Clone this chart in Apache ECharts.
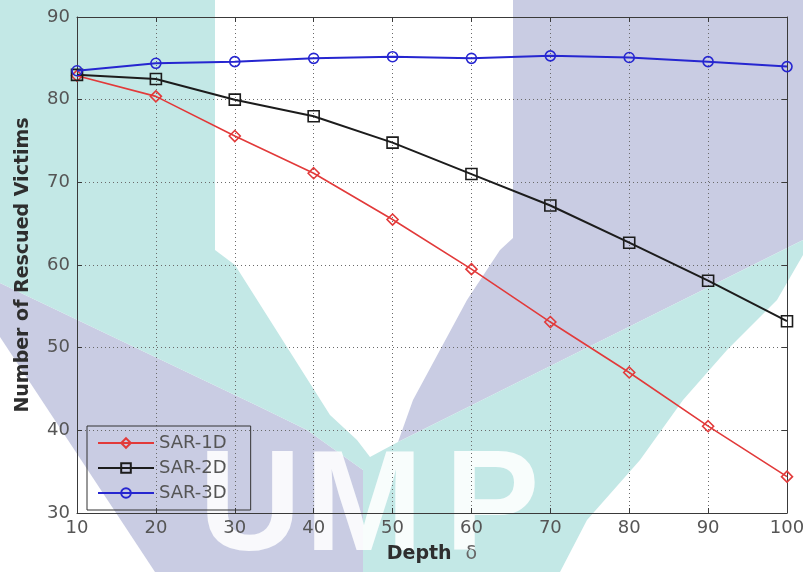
<!DOCTYPE html>
<html><head><meta charset="utf-8">
<script src="https://cdn.jsdelivr.net/npm/echarts@6/dist/echarts.min.js"></script>
<style>html,body{margin:0;padding:0;background:#fff}#c{width:803px;height:572px}</style>
</head><body><div id="c"></div>
<script>
// ---- data ----
const depths = [10, 20, 30, 40, 50, 60, 70, 80, 90, 100];
const sar1d = [82.9, 80.4, 75.6, 71.1, 65.5, 59.5, 53.1, 47.0, 40.5, 34.4];
const sar2d = [83.0, 82.5, 80.0, 78.0, 74.8, 71.0, 67.2, 62.7, 58.1, 53.2];
const sar3d = [83.5, 84.4, 84.6, 85.0, 85.2, 85.0, 85.3, 85.1, 84.6, 84.0];
const seriesNames = ['SAR-1D', 'SAR-2D', 'SAR-3D'];
const xRange = [10, 100];
const yRange = [30, 90];
const tickStep = 10;
const yTitle = 'Number of Rescued Victims';
const xTitle = 'Depth';

// ---- background watermark (decoration) ----
const teal = '#c3e8e6', lav = '#c9cce3';
const lavTop = [[513,0],[803,0],[803,240],[398,442],[413,400],[440,350],[467,300],[500,250],[513,238]];
const lavLeft = [[0,283],[260,407],[307,430],[363,470],[363,572],[155,572],[0,337]];
const tealShape = [[0,0],[215,0],[215,250],[235,265],[330,415],[357,440],[370,457],[383,450],[398,442],[803,240],[803,255],[777,300],[727,350],[683,400],[640,460],[587,520],[560,572],[363,572],[363,470],[307,430],[260,407],[0,283]];
const letters = [['U',250],['M',364],['P',492]];

const pairs = vals => depths.map((d, i) => [d, vals[i]]);
const font = 'DejaVu Sans';

const chart = echarts.init(document.getElementById('c'), null, {renderer: 'canvas'});
const axisCommon = {
  type: 'value', min: xRange[0], max: xRange[1], interval: tickStep,
  axisLine: {show: true, onZero: false, lineStyle: {color: '#3a3a3a', width: 1}},
  axisTick: {show: true, inside: true, length: 5, lineStyle: {color: '#3a3a3a'}}
};
const gridLine = {show: true, lineStyle: {type: [1, 3], color: '#6a6a6a', width: 1}};

chart.setOption({
  animation: false,
  backgroundColor: '#ffffff',
  graphic: [
    {type: 'polygon', z: -100, silent: true, shape: {points: lavTop}, style: {fill: lav}},
    {type: 'polygon', z: -100, silent: true, shape: {points: lavLeft}, style: {fill: lav}},
    {type: 'polygon', z: -99, silent: true, shape: {points: tealShape}, style: {fill: teal}},
    ...letters.map(([t, x]) => ({type: 'text', z: -98, silent: true, x: x, y: 511,
      style: {text: t, fill: 'rgba(255,255,255,0.88)', font: 'bold 142px "Liberation Sans"', align: 'center', verticalAlign: 'middle'}}))
  ],
  grid: {left: 77, right: 16, top: 17, bottom: 59, containLabel: false, outerBoundsMode: 'none'},
  legend: {
    orient: 'vertical', left: 87, top: 426,
    padding: [8, 24, 8, 10], itemGap: 7, itemWidth: 56, itemHeight: 12,
    borderColor: '#333', borderWidth: 1, backgroundColor: 'transparent',
    textStyle: {fontFamily: font, fontSize: 18, color: '#555'},
    data: seriesNames
  },
  xAxis: [
    Object.assign({}, axisCommon, {
      position: 'bottom',
      axisLabel: {show: true, color: '#555', fontFamily: font, fontSize: 18, margin: 6, showMinLabel: true, showMaxLabel: true},
      splitLine: gridLine,
      name: xTitle + '{d|δ}', nameLocation: 'middle', nameGap: 32,
      nameTextStyle: {fontFamily: font, fontSize: 19, fontWeight: 'bold', color: '#2e2e2e',
        rich: {d: {fontFamily: font, fontSize: 19, fontWeight: 'normal', color: '#666', padding: [0, 0, 0, 14]}}}
    }),
    Object.assign({}, axisCommon, {position: 'top', axisLabel: {show: false}, splitLine: {show: false}})
  ],
  yAxis: [
    Object.assign({}, axisCommon, {
      min: yRange[0], max: yRange[1], position: 'left',
      axisLabel: {show: true, color: '#555', fontFamily: font, fontSize: 18, margin: 7},
      splitLine: gridLine,
      name: yTitle, nameLocation: 'middle', nameGap: 44, nameRotate: 90,
      nameTextStyle: {fontFamily: font, fontSize: 19, fontWeight: 'bold', color: '#2e2e2e'}
    }),
    Object.assign({}, axisCommon, {min: yRange[0], max: yRange[1], position: 'right', axisLabel: {show: false}, splitLine: {show: false}})
  ],
  series: [
    {name: seriesNames[0], type: 'line', data: pairs(sar1d), symbol: 'diamond', symbolSize: 11,
      lineStyle: {color: '#e23a3a', width: 1.6},
      itemStyle: {color: 'rgba(255,255,255,0)', borderColor: '#e23a3a', borderWidth: 1.6}, z: 3},
    {name: seriesNames[1], type: 'line', data: pairs(sar2d), symbol: 'rect', symbolSize: 11,
      lineStyle: {color: '#1c1c1c', width: 2},
      itemStyle: {color: 'rgba(255,255,255,0)', borderColor: '#1c1c1c', borderWidth: 1.6}, z: 4},
    {name: seriesNames[2], type: 'line', data: pairs(sar3d), symbol: 'circle', symbolSize: 10,
      lineStyle: {color: '#2626d0', width: 2},
      itemStyle: {color: 'rgba(255,255,255,0)', borderColor: '#2626d0', borderWidth: 1.6}, z: 5}
  ]
});
</script></body></html>
